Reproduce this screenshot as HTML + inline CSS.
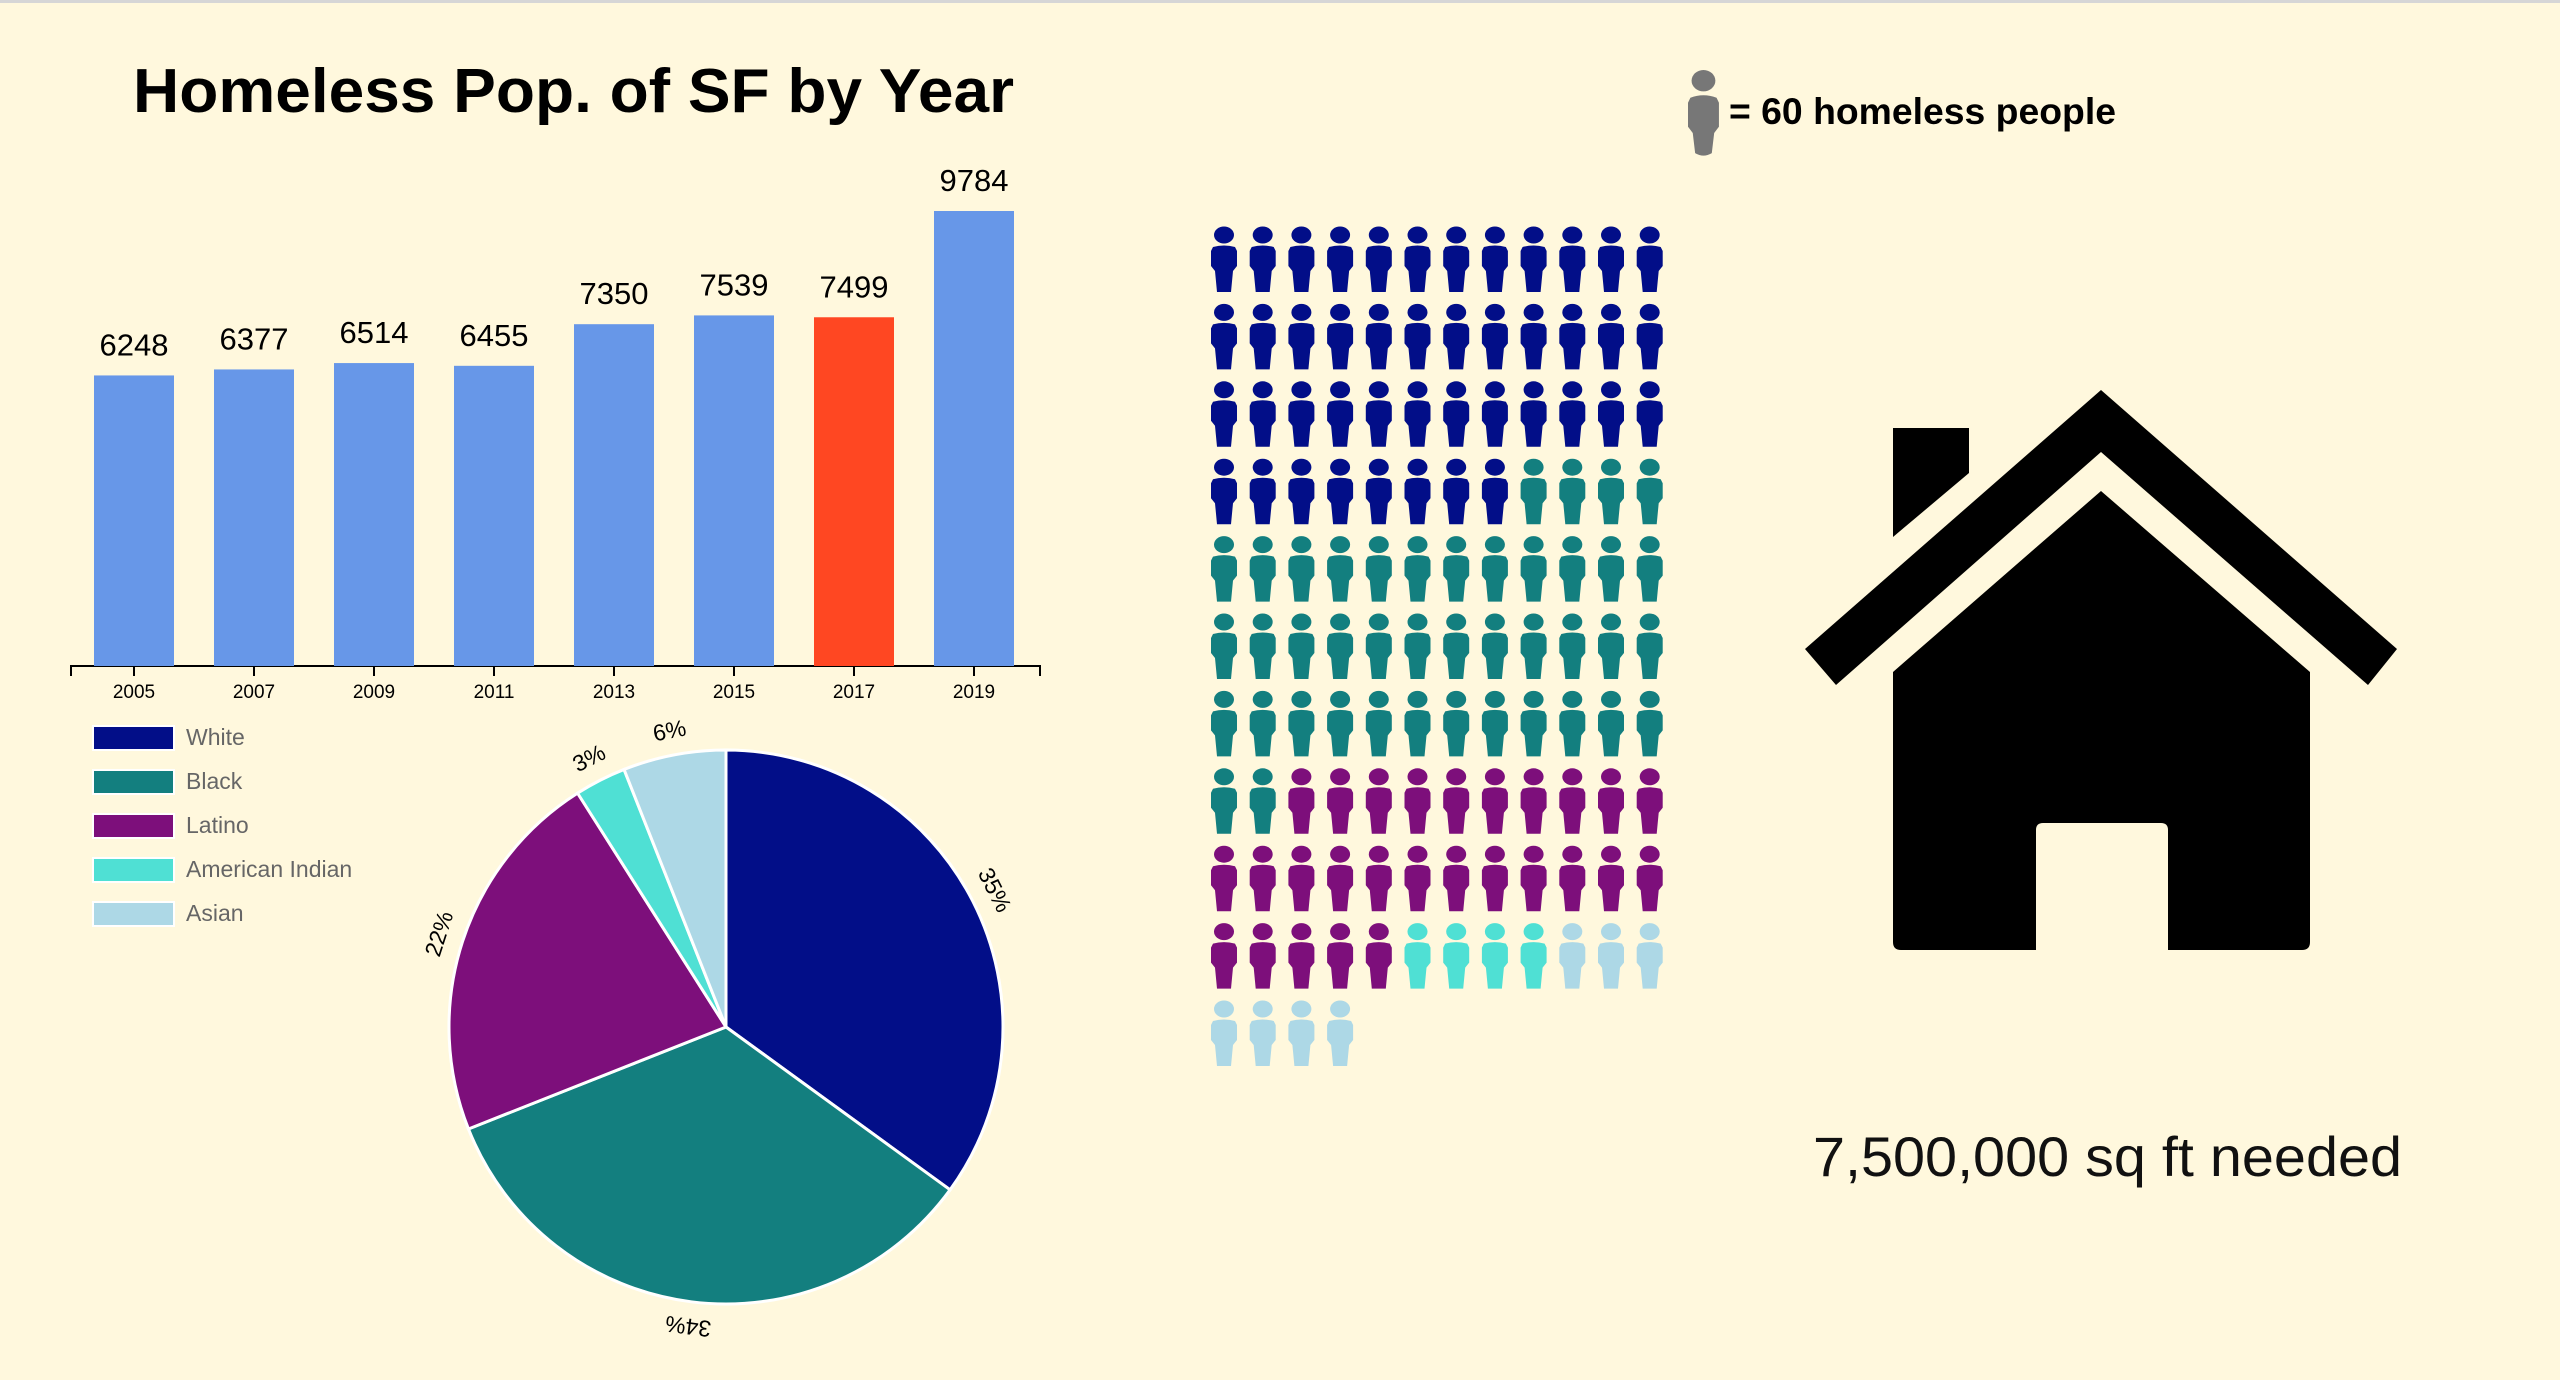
<!DOCTYPE html>
<html><head><meta charset="utf-8"><style>
html,body{margin:0;padding:0;background:#fff8dd;}
body{width:2560px;height:1380px;overflow:hidden;border-top:3px solid #d6d6d6;box-sizing:border-box;}
svg{position:absolute;left:0;top:0;font-family:"Liberation Sans",sans-serif;}
</style></head><body>
<svg id="main" width="2560" height="1380">
  <text x="133" y="112" font-size="62" font-weight="bold" textLength="881" lengthAdjust="spacingAndGlyphs">Homeless Pop. of SF by Year</text>
  <g id="bars"></g>
  <g id="pie"></g>
  <g id="legend"></g>
  <g id="picto"></g>
  <g>
    <g transform="translate(1688,70) scale(1.19,1.26)" fill="#777">
      <ellipse cx="13" cy="8.5" rx="10" ry="8.5"/>
      <path d="M2,22 Q13,18 24,22 L26,26 L26,45 L22,50 L20,66 Q13,70 6,66 L4,50 L0,45 L0,26 Z"/>
    </g>
    <text x="1729" y="124" font-size="37" font-weight="bold" textLength="387" lengthAdjust="spacingAndGlyphs">= 60 homeless people</text>
  </g>
  <g fill="#000">
    <polygon points="1893,428 1969,428 1969,473 1893,537"/>
    <polygon points="2101,390 2397,649 2368,685 2101,452 1836,685 1805,649"/>
    <path d="M2101,491 L2310,672 L2310,942 Q2310,950 2302,950 L2168,950 L2168,830 Q2168,823 2161,823 L2043,823 Q2036,823 2036,830 L2036,950 L1901,950 Q1893,950 1893,942 L1893,672 Z"/>
  </g>
  <text x="1813" y="1176" font-size="56" fill="#111" textLength="589" lengthAdjust="spacingAndGlyphs">7,500,000 sq ft needed</text>
</svg>
<script>
const years=["2005","2007","2009","2011","2013","2015","2017","2019"];
const counts=[6248,6377,6514,6455,7350,7539,7499,9784];
const highlightYear="2017";
const groups=["White","Black","Latino","American Indian","Asian"];
const percents=[35,34,22,3,6];
const groupColors=["#020e88","#137f7f","#7d0f7b","#4fe0d4","#add8e6"];
const iconCounts=[44,42,27,4,7];

const NS="http://www.w3.org/2000/svg";
function mk(tag,attrs,parent){const e=document.createElementNS(NS,tag);for(const k in attrs)e.setAttribute(k,attrs[k]);parent.appendChild(e);return e;}

// Bar chart
const bars=document.getElementById('bars');
const axisY=666, x0=71, x1=1040, step=120, firstC=134, bw=80;
const yScale=v=>axisY-v*(455/9784);
const xC=i=>firstC+step*i;
const axis=mk('path',{d:`M${x0},${axisY+10}V${axisY}H${x1}V${axisY+10}`,stroke:'#000','stroke-width':2,fill:'none'},bars);


years.forEach((y,i)=>{
  const c=xC(i), top=yScale(counts[i]);
  const r=mk('rect',{x:c-bw/2,y:top,width:bw,height:axisY-top,fill:y===highlightYear?'#ff4722':'#6797e8'},bars);
  
  
  const t=mk('text',{x:c,y:top-20,'font-size':31,'text-anchor':'middle'},bars);t.textContent=counts[i];
  
  
  const tk=mk('line',{x1:c,x2:c,y1:axisY,y2:axisY+10,stroke:'#000','stroke-width':2},bars);
  
  
  const tl=mk('text',{x:c,y:698,'font-size':19,'text-anchor':'middle'},bars);tl.textContent=y;
  
  
});

// Pie
const pie=document.getElementById('pie');
const cx=726, cy=1027, R=277;
const total=percents.reduce((a,b)=>a+b,0);
let acc=0;
percents.forEach((p,i)=>{
  const a0=acc/total*2*Math.PI; acc+=p; const a1=acc/total*2*Math.PI;
  const P=a=>[cx+R*Math.sin(a),cy-R*Math.cos(a)];
  const [sx,sy]=P(a0),[ex,ey]=P(a1);
  const s=mk('path',{d:`M${cx},${cy}L${sx},${sy}A${R},${R} 0 ${a1-a0>Math.PI?1:0} 1 ${ex},${ey}Z`,fill:groupColors[i],stroke:'#fff','stroke-width':3},pie);
  
  
  const m=(a0+a1)/2, lr=300;
  const lx=cx+lr*Math.sin(m), ly=cy-lr*Math.cos(m);
  const t=mk('text',{x:0,y:0,'font-size':23,'text-anchor':'middle','dominant-baseline':'middle',transform:`translate(${lx},${ly}) rotate(${m*180/Math.PI})`},pie);
  t.textContent=p+'%';
  
  
});

// Legend
const lg=document.getElementById('legend');
groups.forEach((g,i)=>{
  const y=726+i*44;
  const r=mk('rect',{x:93,y:y,width:81,height:24,fill:groupColors[i],stroke:'#fff','stroke-width':2},lg);
  
  
  const t=mk('text',{x:186,y:y+19,'font-size':23,fill:'#666'},lg);t.textContent=g;
  
  
});

// Pictogram
const pg=document.getElementById('picto');
let k=0;
iconCounts.forEach((n,gi)=>{
  for(let j=0;j<n;j++,k++){
    const col=k%12,row=Math.floor(k/12);
    const g=mk('g',{transform:`translate(${1211+col*38.7},${226+row*77.4})`,fill:groupColors[gi]},pg);
    
    
    mk('ellipse',{cx:13,cy:9,rx:10,ry:8.5},g);
    mk('path',{d:'M2,21 Q13,18 24,21 L26,25 L26,40 L22,45 L20,66 L6,66 L4,45 L0,40 L0,25 Z'},g);
  }
});
</script>
</body></html>
